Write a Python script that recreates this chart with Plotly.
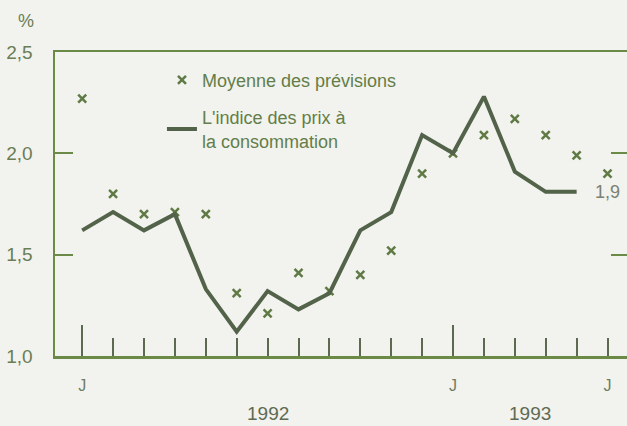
import plotly.graph_objects as go

# Months from January 1992 (index 0) to June 1993 (index 17)
months = list(range(18))
month_labels = ["J", "", "", "", "", "", "", "", "", "", "", "",
                "J", "", "", "", "", "J"]
year_labels = ["1992", "1993"]
year_positions = [6.0, 14.5]

# Consumer price index (12-month rate, %), Jan 1992 - May 1993
cpi_months = list(range(17))
cpi_values = [1.62, 1.71, 1.62, 1.70, 1.33, 1.12, 1.32, 1.23, 1.31,
              1.62, 1.71, 2.09, 2.00, 2.28, 1.91, 1.81, 1.81]

# Average of forecasts (%), Jan 1992 - Jun 1993
forecast_values = [2.27, 1.80, 1.70, 1.71, 1.70, 1.31, 1.21, 1.41, 1.32,
                   1.40, 1.52, 1.90, 2.00, 2.09, 2.17, 2.09, 1.99, 1.90]

y_ticks = [1.0, 1.5, 2.0, 2.5]
y_ticktext = ["1,0", "1,5", "2,0", "2,5"]
end_label = "1,9"

BG = "#f2f2ee"
FRAME = "#6b8a48"
TICK = "#5c6b50"
TEXT = "#637e48"
LINE = "#52634a"
CROSS = "#5f7a45"
FONT = "Liberation Sans, Arial, sans-serif"

fig = go.Figure()

fig.add_trace(go.Scatter(
    x=months, y=forecast_values, mode="markers",
    name="Moyenne des prévisions", legendgroup="a",
    marker=dict(symbol="x-thin", size=8, color=CROSS,
                line=dict(width=2.5, color=CROSS)),
    hoverinfo="skip",
))
fig.add_trace(go.Scatter(
    x=cpi_months, y=cpi_values, mode="lines",
    name="L'indice des prix à<br>la consommation", legendgroup="b",
    line=dict(color=LINE, width=4),
    hoverinfo="skip",
))
# invisible trace to carry the overlay axes (tall year ticks, right ticks)
fig.add_trace(go.Scatter(x=[None], y=[None], xaxis="x2", yaxis="y2",
                         showlegend=False, hoverinfo="skip"))

xr = [-0.88, 17.63]
yr = [1.0, 2.5]

fig.update_layout(
    width=627, height=426,
    margin=dict(l=55, r=0, t=52, b=70),
    paper_bgcolor=BG, plot_bgcolor=BG,
    font=dict(family=FONT, color=TEXT, size=17),
    showlegend=True,
    legend=dict(x=0.187, y=0.968, xanchor="left", yanchor="top",
                bgcolor="rgba(0,0,0,0)", font=dict(size=18, color=TEXT),
                itemwidth=30, tracegroupgap=11),
    xaxis=dict(range=xr, showgrid=False, zeroline=False,
               showline=True, linecolor=FRAME, linewidth=2.5, mirror=True,
               ticks="inside", ticklen=18, tickwidth=2, tickcolor=TICK,
               tickvals=months, ticktext=month_labels,
               tickfont=dict(size=16, color="#6f7d62"),
               ticklabelstandoff=13),
    xaxis2=dict(range=xr, overlaying="x", anchor="y", side="bottom",
                showgrid=False, zeroline=False, showline=False,
                ticks="inside", ticklen=31, tickwidth=2, tickcolor=TICK,
                tickvals=[0, 12], showticklabels=False),
    yaxis=dict(range=yr, showgrid=False, zeroline=False,
               showline=True, linecolor=FRAME, linewidth=2.5,
               ticks="inside", ticklen=18, tickwidth=2, tickcolor=FRAME,
               tickvals=y_ticks, ticktext=y_ticktext,
               tickfont=dict(size=19, color="#6a7d55"),
               ticklabelstandoff=16),
    yaxis2=dict(range=yr, overlaying="y", anchor="x", side="right",
                showgrid=False, zeroline=False, showline=False,
                ticks="inside", ticklen=16, tickwidth=2, tickcolor=FRAME,
                tickvals=[1.5, 2.0], showticklabels=False),
)

fig.add_annotation(text="%", xref="paper", yref="paper",
                   x=-0.068, y=1.14, showarrow=False,
                   font=dict(size=18, color="#6a7d55"))
for lab, pos in zip(year_labels, year_positions):
    fig.add_annotation(text=lab, xref="x", yref="paper", x=pos, y=-0.1875,
                       yanchor="middle", showarrow=False,
                       font=dict(size=19, color="#5e6b52"))
fig.add_annotation(text=end_label, xref="x", yref="y",
                   x=months[-1], y=cpi_values[-1], showarrow=False,
                   font=dict(size=18, color="#7a8270"))

fig.write_html(
    "out.html",
    config={"displayModeBar": False, "staticPlot": True},
    post_script="document.body.style.margin='0px';"
                "document.body.style.overflow='hidden';"
                "document.body.style.background='" + BG + "';",
)
